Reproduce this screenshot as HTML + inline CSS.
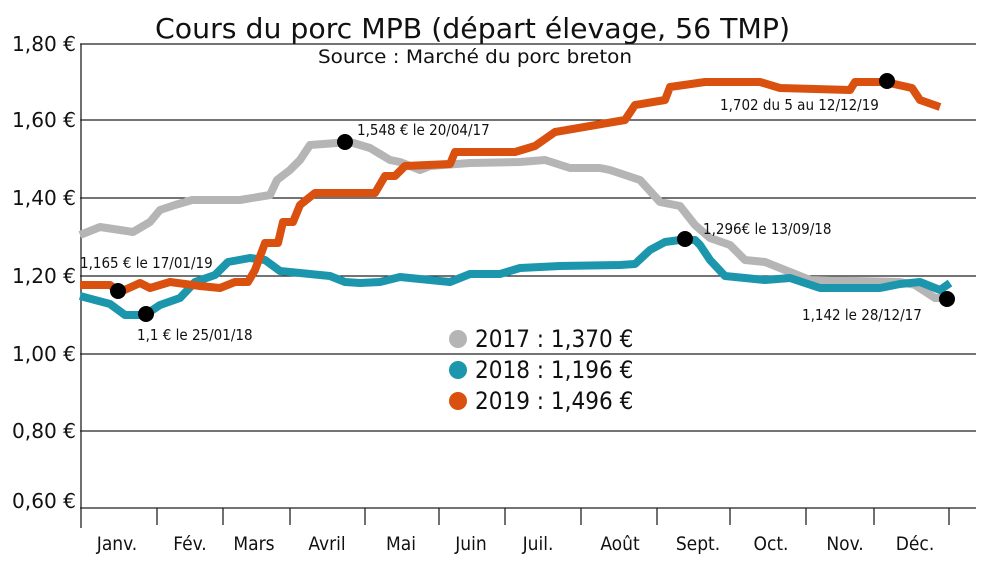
<!DOCTYPE html>
<html><head><meta charset="utf-8"><style>
body{margin:0;background:#fff}
svg text{font-family:"DejaVu Sans Condensed","DejaVu Sans","Liberation Sans",sans-serif;fill:#111}
</style></head><body>
<svg width="1000" height="577" viewBox="0 0 1000 577" xmlns="http://www.w3.org/2000/svg">
<text x="155" y="38" font-size="28" textLength="635" lengthAdjust="spacingAndGlyphs">Cours du porc MPB (départ élevage, 56 TMP)</text>
<text x="318" y="63" font-size="19" textLength="314" lengthAdjust="spacingAndGlyphs">Source : Marché du porc breton</text>
<g stroke="#222" stroke-width="1.3">
<line x1="80" y1="44" x2="976" y2="44"/><line x1="80" y1="120" x2="976" y2="120"/>
<line x1="80" y1="198" x2="976" y2="198"/><line x1="80" y1="276" x2="976" y2="276"/>
<line x1="80" y1="354" x2="976" y2="354"/><line x1="80" y1="431" x2="976" y2="431"/>
<line x1="80" y1="508" x2="976" y2="508"/>
<line x1="81" y1="44" x2="81" y2="528"/>
<line x1="157" y1="508" x2="157" y2="525"/><line x1="223" y1="508" x2="223" y2="525"/>
<line x1="290" y1="508" x2="290" y2="525"/><line x1="365" y1="508" x2="365" y2="525"/>
<line x1="439" y1="508" x2="439" y2="525"/><line x1="505" y1="508" x2="505" y2="525"/>
<line x1="581" y1="508" x2="581" y2="525"/><line x1="657" y1="508" x2="657" y2="525"/>
<line x1="730" y1="508" x2="730" y2="525"/><line x1="806" y1="508" x2="806" y2="525"/>
<line x1="874" y1="508" x2="874" y2="525"/><line x1="949" y1="508" x2="949" y2="525"/>
</g>
<g font-size="20">
<text x="12" y="51" textLength="64" lengthAdjust="spacingAndGlyphs">1,80 €</text><text x="12" y="127" textLength="64" lengthAdjust="spacingAndGlyphs">1,60 €</text><text x="12" y="205" textLength="64" lengthAdjust="spacingAndGlyphs">1,40 €</text>
<text x="12" y="283" textLength="64" lengthAdjust="spacingAndGlyphs">1,20 €</text><text x="12" y="361" textLength="64" lengthAdjust="spacingAndGlyphs">1,00 €</text><text x="12" y="438" textLength="64" lengthAdjust="spacingAndGlyphs">0,80 €</text><text x="12" y="508" textLength="64" lengthAdjust="spacingAndGlyphs">0,60 €</text>
</g>
<g font-size="19" text-anchor="middle">
<text x="117" y="550">Janv.</text><text x="190" y="550">Fév.</text><text x="254" y="550">Mars</text>
<text x="327" y="550">Avril</text><text x="401" y="550">Mai</text><text x="471" y="550">Juin</text>
<text x="538" y="550">Juil.</text><text x="620" y="550">Août</text><text x="698" y="550">Sept.</text>
<text x="771" y="550">Oct.</text><text x="845" y="550">Nov.</text><text x="915" y="550">Déc.</text>
</g>
<g fill="none" stroke-width="8" stroke-linejoin="round">
<polyline stroke="#b5b5b5" points="80,235 100,227 120,230 133,232 150,222 160,210 175,205 192,200 240,200 270,195 277,180 290,170 300,160 310,145 350,142 370,148 390,160 400,162 420,170 430,166 470,163 520,162 545,160 570,168 600,168 610,170 640,180 660,202 680,206 695,225 710,238 730,245 745,260 765,262 785,270 810,280 900,282 915,285 935,298 948,298"/>
<polyline stroke="#1b96ac" points="80,296 110,304 125,315 145,315 160,305 180,298 195,282 215,275 228,262 250,258 265,260 280,271 330,276 345,282 360,283 380,282 400,277 450,282 470,274 500,274 520,268 560,266 620,265 635,264 650,250 665,242 680,240 695,240 700,245 710,260 725,276 765,280 790,278 820,288 880,288 900,284 920,282 940,290 950,283"/>
<polyline stroke="#d9500f" points="80,285 110,285 120,292 140,283 150,288 170,282 200,286 220,288 235,282 248,282 255,270 265,243 278,243 283,222 293,222 300,205 315,193 325,193 375,193 385,176 395,176 405,166 450,164 455,152 515,152 535,146 555,132 625,120 635,105 665,100 670,87 705,82 760,82 780,88 850,90 855,82 885,82 912,88 920,100 940,107"/>
</g>
<g fill="#000">
<circle cx="118" cy="291" r="8"/><circle cx="146" cy="314" r="8"/><circle cx="345" cy="142" r="8"/>
<circle cx="685" cy="239" r="8"/><circle cx="887" cy="81" r="8"/><circle cx="947" cy="299" r="8"/>
</g>
<g font-size="15">
<text x="80" y="268">1,165 € le 17/01/19</text>
<text x="137" y="340">1,1 € le 25/01/18</text>
<text x="357" y="135">1,548 € le 20/04/17</text>
<text x="703" y="234">1,296€ le 13/09/18</text>
<text x="720" y="110">1,702 du 5 au 12/12/19</text>
<text x="802" y="320">1,142 le 28/12/17</text>
</g>
<circle cx="458" cy="339" r="9" fill="#b5b5b5"/>
<circle cx="458" cy="370" r="9" fill="#1b96ac"/>
<circle cx="458" cy="401" r="9" fill="#d9500f"/>
<g font-size="24">
<text x="475" y="347">2017 : 1,370 €</text>
<text x="475" y="378">2018 : 1,196 €</text>
<text x="475" y="409">2019 : 1,496 €</text>
</g>
</svg>
</body></html>
